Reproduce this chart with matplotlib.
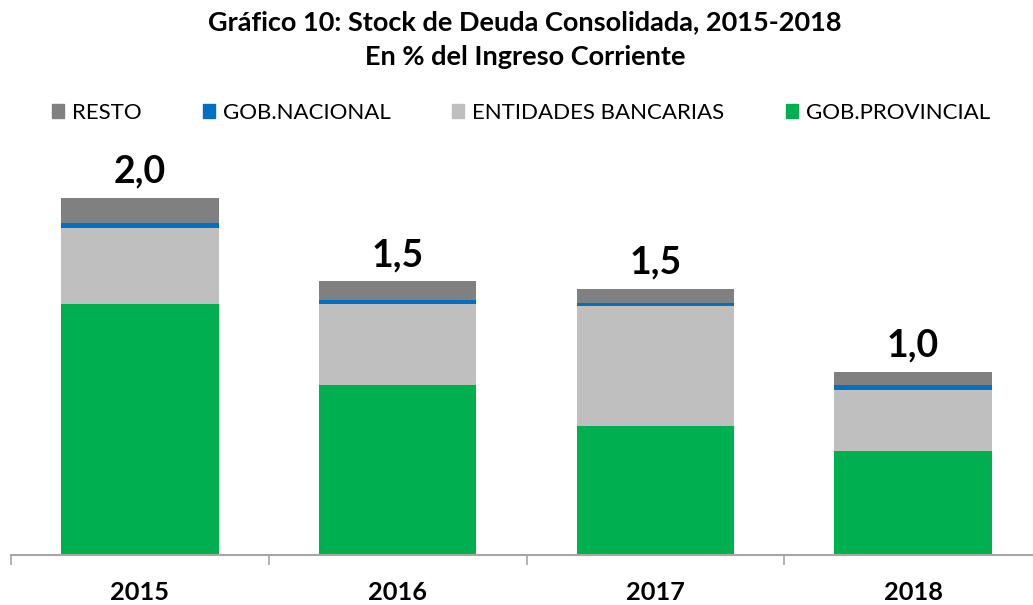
"""
Grafico 10 - stock de deuda consolidada, en % del ingreso corriente
"""

import matplotlib.pyplot as plt
from matplotlib.patches import Patch
import numpy as np

plt.rcParams['font.family'] = ['Lato', 'DejaVu Sans']

years = ['2015', '2016', '2017', '2018']
gob_provincial = [1.394, 0.944, 0.718, 0.578]
entidades_bancarias = [0.422, 0.450, 0.665, 0.341]
gob_nacional = [0.028, 0.024, 0.015, 0.028]
resto = [0.139, 0.102, 0.079, 0.069]

series = [
    ('GOB.PROVINCIAL', gob_provincial, '#00B050'),
    ('ENTIDADES BANCARIAS', entidades_bancarias, '#BFBFBF'),
    ('GOB.NACIONAL', gob_nacional, '#0070C0'),
    ('RESTO', resto, '#808080'),
]

W, H = 1033, 605
fig = plt.figure(figsize=(W / 100, H / 100), dpi=100)
# axes spans the category slots; the last slot runs a bit past the right edge
ax = fig.add_axes([11 / W, 1 - 555 / H, 1031 / W, 360 / H])

x = np.arange(len(years))
bottom = np.zeros(len(years))
for name, vals, color in series:
    ax.bar(x, vals, 0.612, bottom=bottom, color=color, label=name)
    bottom += np.array(vals)

for xi, tot in zip(x, bottom):
    ax.text(xi, tot + 0.085, f'{tot:.1f}'.replace('.', ','), ha='center', va='baseline',
            fontsize=27, fontweight='bold', clip_on=False)

ax.set_xlim(-0.5, 3.5)
ax.set_ylim(0, 2.0)
ax.set_yticks([])
for s in ['left', 'right', 'top']:
    ax.spines[s].set_visible(False)
ax.spines['bottom'].set_color('#A6A6A6')
ax.spines['bottom'].set_linewidth(1.5)

ax.set_xticks(x)
ax.set_xticklabels(years, fontsize=18.3, fontweight='bold')
ax.tick_params(axis='x', which='major', length=0, pad=19)
ax.set_xticks(np.arange(-0.5, 4.0, 1.0), minor=True)
ax.tick_params(axis='x', which='minor', length=7, width=1.2, color='#A6A6A6')

fig.text(525 / W, 1 - 22 / H, 'Gráfico 10: Stock de Deuda Consolidada, 2015-2018',
         ha='center', va='center', fontsize=19.5, fontweight='bold')
fig.text(525 / W, 1 - 57 / H, 'En % del Ingreso Corriente',
         ha='center', va='center', fontsize=19.5, fontweight='bold')

order = ['RESTO', 'GOB.NACIONAL', 'ENTIDADES BANCARIAS', 'GOB.PROVINCIAL']
colors = {n: c for n, _, c in series}
handles = [Patch(color=colors[n], label=n) for n in order]
fig.legend(handles=handles, loc='center', bbox_to_anchor=(521 / W, 1 - 113 / H),
           ncol=4, frameon=False, fontsize=16, handlelength=0.55, handleheight=0.55,
           handletextpad=0.36, columnspacing=2.75, borderpad=0, borderaxespad=0)

fig.savefig('out.png', dpi=100)
